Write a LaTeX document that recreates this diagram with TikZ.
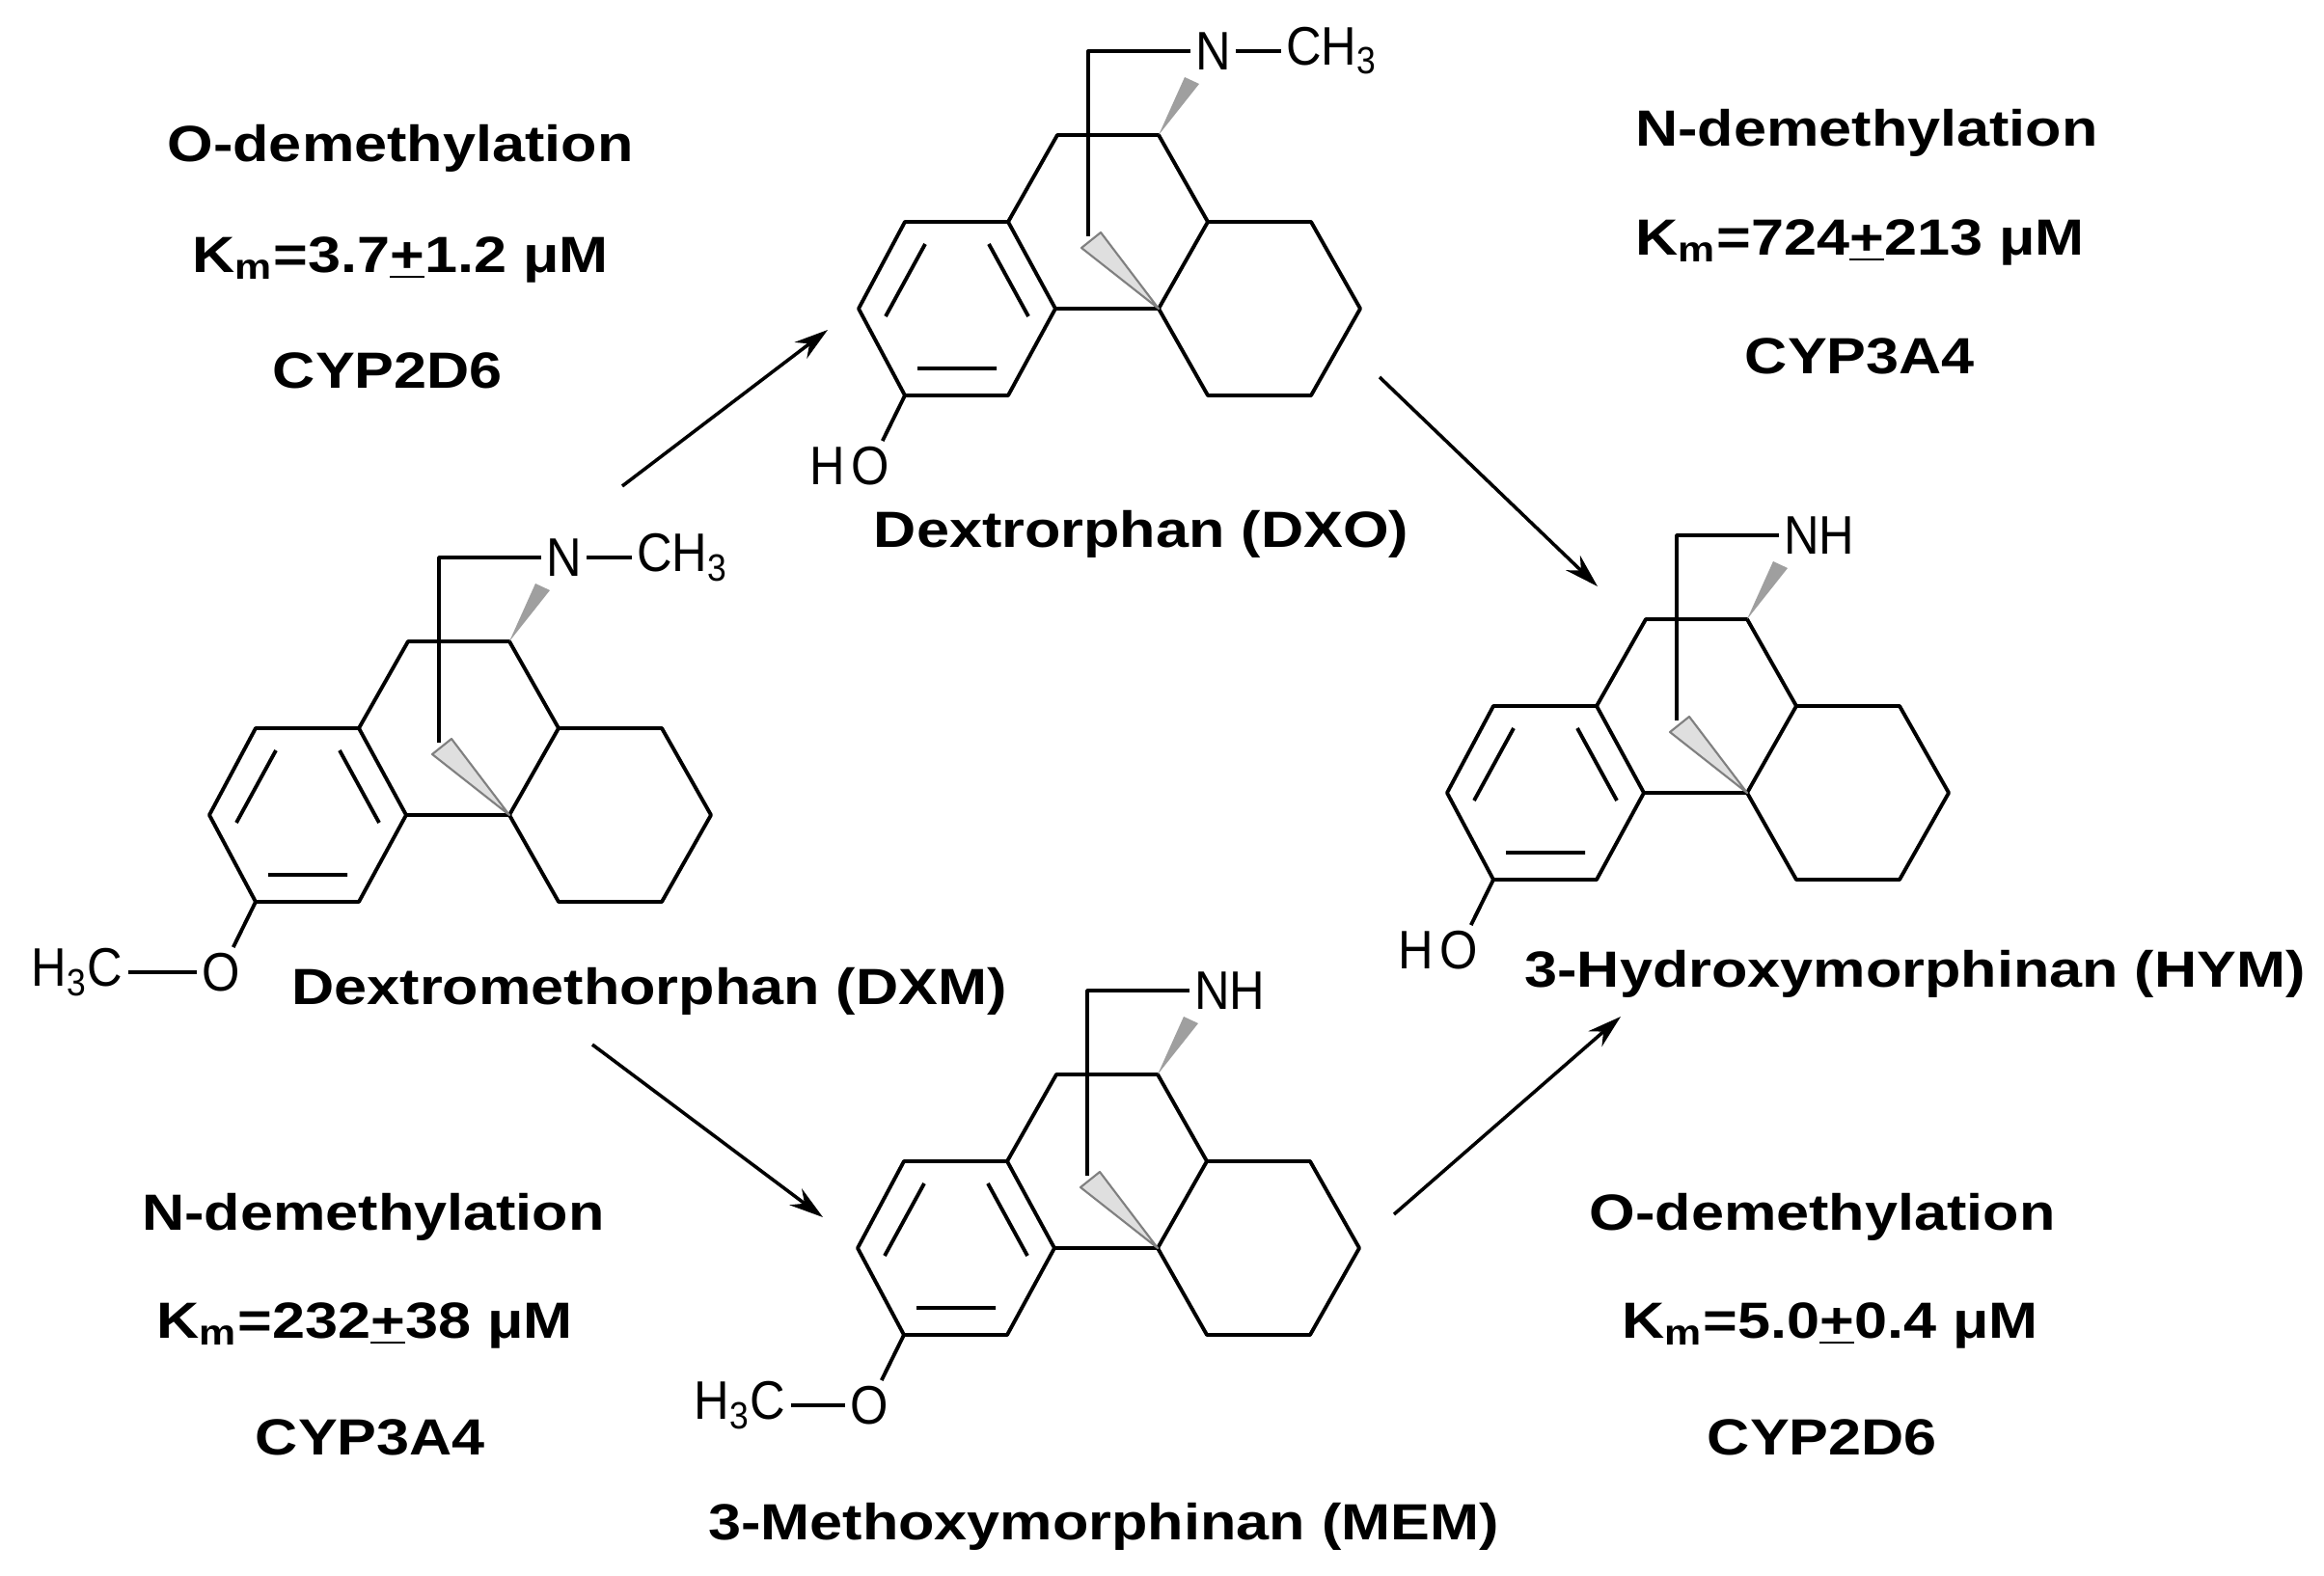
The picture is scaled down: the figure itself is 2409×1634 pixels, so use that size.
\documentclass[tikz,border=0pt]{standalone}
\usepackage{fontspec}
\setmainfont{Liberation Sans}
\usetikzlibrary{arrows.meta}
\newcommand\skel[2]{%
  \draw[bond] (0,0)--(107,0)--(156,90)--(107,180)--(0,180)--(-48,90)--cycle;
  \draw[bond] (107,0)--(158,-90)--(263,-90)--(314,0)--(263,90)--(156,90);
  \draw[bond] (314,0)--(421,0)--(472,90)--(421,180)--(314,180)--(263,90);
  \draw[bond] (21,23)--(-20,98) (87,23)--(128,98) (13,152)--(95,152);
  \node[atom,anchor=west] (#1N) at (296,-177) {#2};
  \coordinate (#1B) at (190,-177);
  \draw[bond] (190,15)--(#1B)--(#1N.west);
  \fill[gray!75] (263,-90)--(290,-150)--(305,-143)--cycle;
  \draw[gray,fill=gray!25,line width=0.6pt,line join=round] (263,90)--(183,27)--(203,11)--cycle;
  \node[atom] (#1O) at (-36,253) {O};
  \draw[bond] (0,180)--(#1O);
}
\begin{document}
\begin{tikzpicture}[x=0.01cm,y=-0.01cm,
  bond/.style={line width=1.1pt,line join=round},
  atom/.style={font=\fontsize{16}{18}\selectfont,inner sep=1.5pt,xscale=0.9},
  lab/.style={font=\bfseries\fontsize{15}{18}\selectfont,xscale=1.16,inner sep=1pt},
  rxn/.style={line width=1pt,-{Stealth[length=10pt,width=6pt]}}]
\useasboundingbox[fill=white] (0,0) rectangle (2409,1634);
% DXM
\begin{scope}[shift={(265,755)}]
  \skel{dxm}{N}
  \node[atom,anchor=west] (dxmC) at (390,-177) {CH\textsubscript{3}};
  \draw[bond] (dxmN.east)--(dxmC.west);
  \node[atom] (dxmM) at (-185,253) {H\textsubscript{3}C};
  \draw[bond] (dxmM.east)--(dxmO.west);
\end{scope}
% DXO
\begin{scope}[shift={(938,230)}]
  \skel{dxo}{N}
  \node[atom,anchor=west] (dxoC) at (390,-177) {CH\textsubscript{3}};
  \draw[bond] (dxoN.east)--(dxoC.west);
  \node[atom,anchor=east,inner xsep=0pt] (dxoH) at (dxoO.west) {H};
\end{scope}
% HYM
\begin{scope}[shift={(1548,732)}]
  \skel{hym}{NH}
  \node[atom,anchor=east,inner xsep=0pt] (hymH) at (hymO.west) {H};
\end{scope}
% MEM
\begin{scope}[shift={(937,1204)}]
  \skel{mem}{NH}
  \node[atom] (memM) at (-170,253) {H\textsubscript{3}C};
  \draw[bond] (memM.east)--(memO.west);
\end{scope}
% names
\node[lab] (nDXM) at (673,1028) {Dextromethorphan (DXM)};
\node[lab] (nDXO) at (1183,554) {Dextrorphan (DXO)};
\node[lab] (nHYM) at (1985,1010) {3-Hydroxymorphinan (HYM)};
\node[lab] (nMEM) at (1144,1583) {3-Methoxymorphinan (MEM)};
% annotations
\node[lab] (t1) at (415,154) {O-demethylation};
\node[lab] (t2) at (415,269) {K\textsubscript{m}=3.7\underline{+}1.2 μM};
\node[lab] (t3) at (402,384) {CYP2D6};
\node[lab] (t4) at (1935,138) {N-demethylation};
\node[lab] (t5) at (1928,251) {K\textsubscript{m}=724\underline{+}213 μM};
\node[lab] (t6) at (1928,369) {CYP3A4};
\node[lab] (t7) at (387,1262) {N-demethylation};
\node[lab] (t8) at (378,1374) {K\textsubscript{m}=232\underline{+}38 μM};
\node[lab] (t9) at (384,1490) {CYP3A4};
\node[lab] (t10) at (1889,1262) {O-demethylation};
\node[lab] (t11) at (1897,1374) {K\textsubscript{m}=5.0\underline{+}0.4 μM};
\node[lab] (t12) at (1889,1490) {CYP2D6};
% arrows
\coordinate (s1) at (645,504); \coordinate (e1) at (858,342);
\coordinate (s2) at (1430,391); \coordinate (e2) at (1656,608);
\coordinate (s3) at (614,1083); \coordinate (e3) at (853,1262);
\coordinate (s4) at (1445,1259); \coordinate (e4) at (1680,1054);
\draw[rxn] (s1)--(e1);
\draw[rxn] (s2)--(e2);
\draw[rxn] (s3)--(e3);
\draw[rxn] (s4)--(e4);
\end{tikzpicture}
\end{document}
